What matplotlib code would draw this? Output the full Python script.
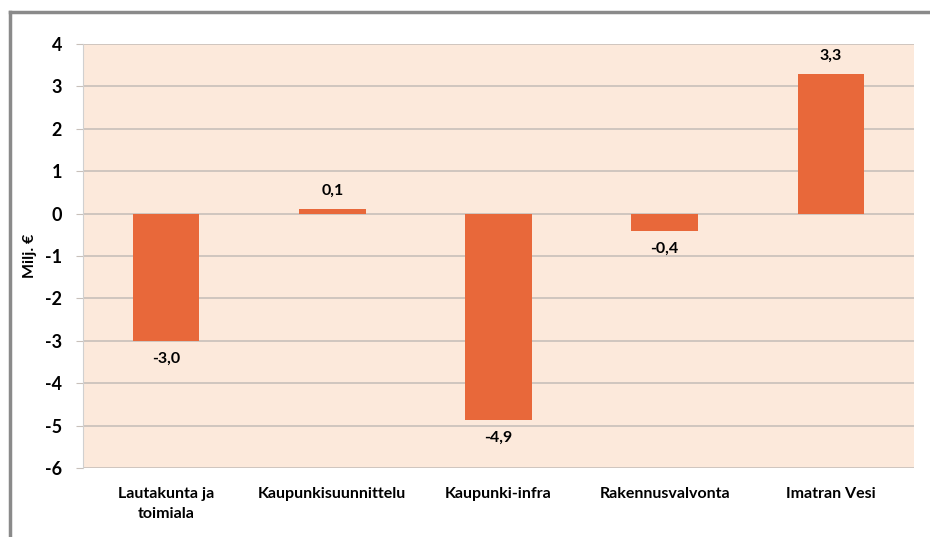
import matplotlib.pyplot as plt
from matplotlib.lines import Line2D

categories = ['Lautakunta ja\ntoimiala', 'Kaupunkisuunnittelu', 'Kaupunki-infra',
              'Rakennusvalvonta', 'Imatran Vesi']
values = [-3.0, 0.1, -4.86, -0.4, 3.3]
labels = ['-3,0', '0,1', '-4,9', '-0,4', '3,3']
yticks = [4, 3, 2, 1, 0, -1, -2, -3, -4, -5, -6]

plt.rcParams['font.family'] = ['Lato', 'DejaVu Sans']

def main():
    fig = plt.figure(figsize=(9.3, 5.37), dpi=100)
    ax = fig.add_axes([83/930, 1-468/537, (914-83)/930, (468-44)/537])

    ax.set_facecolor('#FCE9DB')
    x = range(len(categories))
    ax.bar(x, values, width=0.4, color='#E8683A', zorder=3)

    for i, (v, lab) in enumerate(zip(values, labels)):
        if v >= 0:
            ax.annotate(lab, (i, v), xytext=(0, 8), textcoords='offset points',
                        ha='center', va='bottom', fontsize=11.5, fontweight='bold')
        else:
            ax.annotate(lab, (i, v), xytext=(0, -8), textcoords='offset points',
                        ha='center', va='top', fontsize=11.5, fontweight='bold')

    ax.set_xlim(-0.5, len(categories) - 0.5)
    ax.set_ylim(-6, 4)
    ax.set_yticks(yticks)
    ax.set_yticklabels([str(t) for t in yticks], fontsize=13, fontweight='bold')
    ax.set_xticks(list(x))
    ax.set_xticklabels(categories, fontsize=11.5, fontweight='bold', linespacing=1.5)
    ax.tick_params(axis='x', length=0, pad=14)
    ax.tick_params(axis='y', length=5, color='#C8C0BA', pad=10)
    ax.yaxis.grid(True, color='#C8C0BA', linewidth=1.2, zorder=1)
    ax.set_axisbelow(True)
    for s in ['top', 'right', 'bottom']:
        ax.spines[s].set_visible(False)
    ax.spines['left'].set_color('#D0D0D0')
    ax.set_ylabel('Milj. €', fontsize=11.5, fontweight='bold', labelpad=6)

    # outer frame (left and top edges)
    fig.add_artist(Line2D([10/930, 10/930], [0, 1-12/537], transform=fig.transFigure,
                          color='#8A8A8A', lw=2.5))
    fig.add_artist(Line2D([10/930, 1], [1-12/537, 1-12/537], transform=fig.transFigure,
                          color='#8A8A8A', lw=2.5))

    fig.savefig('out.png', dpi=100)

if __name__ == '__main__':
    main()
